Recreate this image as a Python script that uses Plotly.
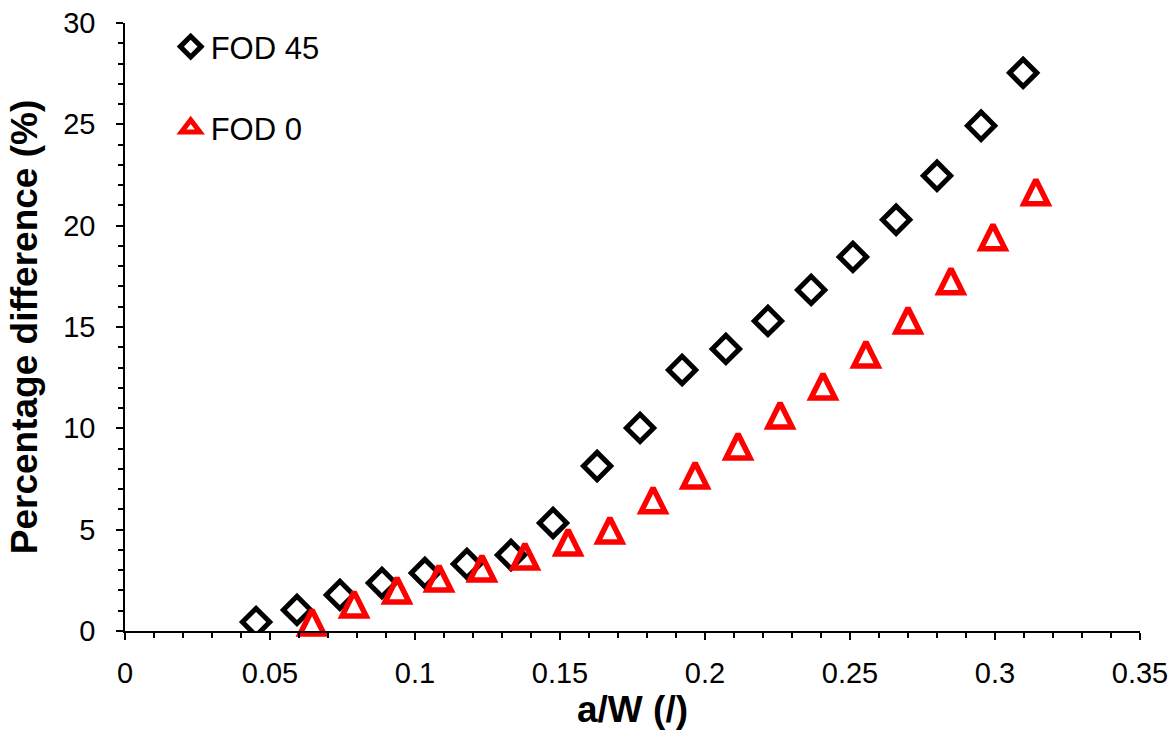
import plotly.graph_objects as go

fod45_x = [0.0452, 0.0593, 0.0741, 0.0886, 0.1034, 0.1179, 0.1331, 0.1476, 0.1628, 0.1776,
           0.1921, 0.2072, 0.2217, 0.2366, 0.2510, 0.2659, 0.2800, 0.2952, 0.3097]
fod45_y = [0.44, 1.04, 1.78, 2.37, 2.86, 3.31, 3.75, 5.33, 8.14, 10.02,
           12.88, 13.92, 15.30, 16.83, 18.46, 20.29, 22.46, 24.93, 27.54]

fod0_x = [0.0645, 0.0790, 0.0938, 0.1083, 0.1231, 0.1379, 0.1528, 0.1672, 0.1821, 0.1966,
          0.2114, 0.2259, 0.2407, 0.2555, 0.2700, 0.2848, 0.2993, 0.3141]
fod0_y = [0.44, 1.33, 2.02, 2.62, 3.11, 3.70, 4.39, 4.98, 6.47, 7.70,
          9.13, 10.66, 12.09, 13.67, 15.35, 17.28, 19.45, 21.67]

x_ticks = [0, 0.05, 0.1, 0.15, 0.2, 0.25, 0.3, 0.35]
x_ticklabels = ["0", "0.05", "0.1", "0.15", "0.2", "0.25", "0.3", "0.35"]
y_ticks = [0, 5, 10, 15, 20, 25, 30]

font = "Liberation Sans, Arial, sans-serif"
red = "#ff0000"

fig = go.Figure()
fig.add_trace(go.Scatter(
    x=fod45_x, y=fod45_y, mode="markers", name="FOD 45", legendgroup="a",
    marker=dict(symbol="diamond-open", size=21, color="black", line=dict(width=5, color="black")),
))
# FOD 0 data (equilateral-looking open triangles, centred on the data point)
fig.add_trace(go.Scatter(
    x=fod0_x, y=fod0_y, mode="markers", name="FOD 0", legendgroup="b", cliponaxis=False,
    showlegend=False,
    marker=dict(symbol="arrow-down-open", angle=180, size=24, standoff=12, color=red,
                line=dict(width=5.5, color=red)),
))
# legend entry for FOD 0
fig.add_trace(go.Scatter(
    x=[None], y=[None], mode="markers", name="FOD 0", legendgroup="b",
    marker=dict(symbol="triangle-up-open", size=16, color=red, line=dict(width=5, color=red)),
))

fig.update_layout(
    width=1175, height=751,
    margin=dict(l=125, r=35, t=23, b=120, autoexpand=False),
    paper_bgcolor="white", plot_bgcolor="white",
    font=dict(family=font, size=29, color="black"),
    showlegend=True,
    legend=dict(x=0.045, y=1.005, xanchor="left", yanchor="top", bgcolor="rgba(0,0,0,0)",
                font=dict(size=31, family=font), tracegroupgap=38, itemwidth=30),
    xaxis=dict(
        range=[0, 0.35], tickvals=x_ticks, ticktext=x_ticklabels, automargin=False,
        showgrid=False, zeroline=False, showline=True, linecolor="black", linewidth=1.5,
        ticks="outside", ticklen=7, tickwidth=1.5, tickcolor="black",
        minor=dict(dtick=0.01, ticks="outside", ticklen=5, tickwidth=1.5, tickcolor="black", showgrid=False),
        tickfont=dict(size=29, family=font),
        ticklabelstandoff=8,
        title=dict(text="<b>a/W (/)</b>", font=dict(size=37, family=font), standoff=1),
    ),
    yaxis=dict(
        range=[0, 30], tickvals=y_ticks, automargin=False,
        showgrid=False, zeroline=False, showline=True, linecolor="black", linewidth=1.5,
        ticks="outside", ticklen=7, tickwidth=1.5, tickcolor="black",
        minor=dict(dtick=1, ticks="outside", ticklen=5, tickwidth=1.5, tickcolor="black", showgrid=False),
        tickfont=dict(size=29, family=font),
        ticklabelstandoff=15,
        title=dict(text="<b>Percentage difference (%)</b>", font=dict(size=37, family=font), standoff=14),
    ),
)

fig.write_html("out.html")
